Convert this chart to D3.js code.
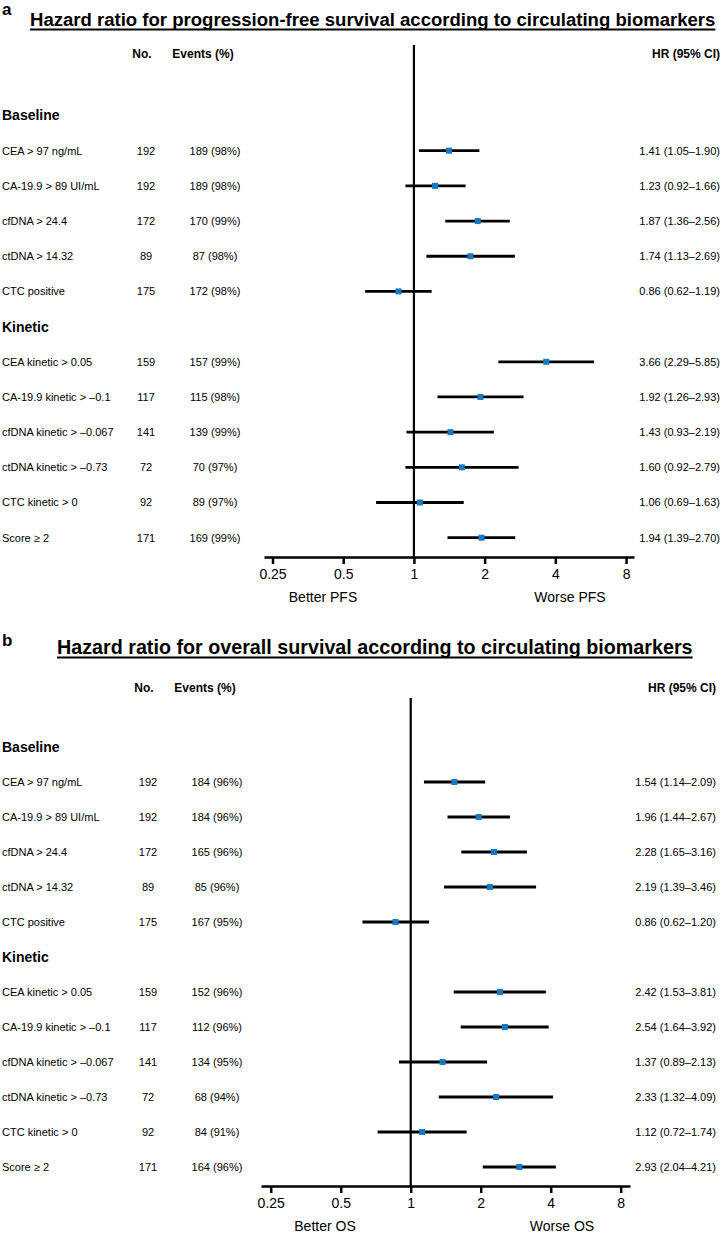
<!DOCTYPE html>
<html><head><meta charset="utf-8">
<script src="https://cdn.jsdelivr.net/npm/d3@7"></script>
<style>
html,body{margin:0;padding:0;background:#fff;}
text{font-family:"Liberation Sans",Arial,Helvetica,sans-serif;fill:#000;}
</style></head>
<body>
<script>
// ---------- data ----------
const rowLabels = ["CEA > 97 ng/mL","CA-19.9 > 89 UI/mL","cfDNA > 24.4","ctDNA > 14.32","CTC positive",
  "CEA kinetic > 0.05","CA-19.9 kinetic > \u20130.1","cfDNA kinetic > \u20130.067","ctDNA kinetic > \u20130.73","CTC kinetic > 0","Score \u2265 2"];
const groupLabels = ["Baseline","Kinetic"];
const groupSizes = [5,6];
const nPatients = [192,192,172,89,175,159,117,141,72,92,171];

const pfsEvents = [189,189,170,87,172,157,115,139,70,89,169];
const pfsPct    = [98,98,99,98,98,99,98,99,97,97,99];
const pfsHR     = [1.41,1.23,1.87,1.74,0.86,3.66,1.92,1.43,1.60,1.06,1.94];
const pfsLo     = [1.05,0.92,1.36,1.13,0.62,2.29,1.26,0.93,0.92,0.69,1.39];
const pfsHi     = [1.90,1.66,2.56,2.69,1.19,5.85,2.93,2.19,2.79,1.63,2.70];

const osEvents = [184,184,165,85,167,152,112,134,68,84,164];
const osPct    = [96,96,96,96,95,96,96,95,94,91,96];
const osHR     = [1.54,1.96,2.28,2.19,0.86,2.42,2.54,1.37,2.33,1.12,2.93];
const osLo     = [1.14,1.44,1.65,1.39,0.62,1.53,1.64,0.89,1.32,0.72,2.04];
const osHi     = [2.09,2.67,3.16,3.46,1.20,3.81,3.92,2.13,4.09,1.74,4.21];

const tickValues = [0.25,0.5,1,2,4,8];
const tickLabels = ["0.25","0.5","1","2","4","8"];

const W = 726, H = 1233;
const svg = d3.select("body").append("svg").attr("width",W).attr("height",H);

function panel(cfg){
  const g = svg.append("g");
  g.append("text").attr("x",2).attr("y",cfg.letterY).attr("font-size",17).attr("font-weight","bold").text(cfg.letter);
  const tt = g.append("text").attr("x",cfg.titleX).attr("y",cfg.titleY)
    .style("font-family","'Liberation Sans Narrow','Liberation Sans',Arial")
    .attr("font-size",21).attr("font-weight","bold").text(cfg.title);
  const natural = tt.node().getComputedTextLength();
  const fs = Math.min(22, 21*cfg.titleW/natural);
  tt.attr("font-size",fs);
  const realW = tt.node().getComputedTextLength();
  g.append("line").attr("x1",cfg.titleX).attr("x2",cfg.titleX+realW)
    .attr("y1",cfg.titleY+3.5).attr("y2",cfg.titleY+3.5).attr("stroke","#000").attr("stroke-width",2);

  const hy = cfg.headerY;
  g.append("text").attr("x",cfg.colN-4).attr("y",hy).attr("dy","0.35em").attr("text-anchor","middle").attr("font-size",12).attr("font-weight","bold").text("No.");
  g.append("text").attr("x",cfg.colE-12).attr("y",hy).attr("dy","0.35em").attr("text-anchor","middle").attr("font-size",12).attr("font-weight","bold").text("Events (%)");
  g.append("text").attr("x",cfg.colHR).attr("y",hy).attr("dy","0.35em").attr("text-anchor","end").attr("font-size",12).attr("font-weight","bold").text("HR (95% CI)");

  const slots = [];
  let idx = 0;
  groupLabels.forEach((gl,gi)=>{
    slots.push({type:"group",label:gl});
    for(let k=0;k<groupSizes[gi];k++){ slots.push({type:"row",i:idx}); idx++; }
  });
  const y = d3.scalePoint().domain(d3.range(slots.length)).range([cfg.firstY,cfg.lastY]);
  const x = d3.scaleLog().base(2).domain(cfg.domain).range(cfg.range);

  g.append("line").attr("x1",x(1)).attr("x2",x(1)).attr("y1",cfg.lineTop).attr("y2",cfg.axisY)
    .attr("stroke","#000").attr("stroke-width",2.2);

  slots.forEach((s,si)=>{
    const yy = y(si);
    if(s.type==="group"){
      g.append("text").attr("x",2).attr("y",yy).attr("dy","0.35em").attr("font-size",14).attr("font-weight","bold").text(s.label);
      return;
    }
    const i = s.i;
    g.append("text").attr("x",2).attr("y",yy).attr("dy","0.35em").attr("font-size",11).text(rowLabels[i]);
    g.append("text").attr("x",cfg.colN).attr("y",yy).attr("dy","0.35em").attr("text-anchor","middle").attr("font-size",11).text(nPatients[i]);
    g.append("text").attr("x",cfg.colE).attr("y",yy).attr("dy","0.35em").attr("text-anchor","middle").attr("font-size",11)
      .text(cfg.events[i]+" ("+cfg.pct[i]+"%)");
    g.append("text").attr("x",cfg.colHR).attr("y",yy).attr("dy","0.35em").attr("text-anchor","end").attr("font-size",11)
      .text(cfg.hr[i].toFixed(2)+" ("+cfg.lo[i].toFixed(2)+"\u2013"+cfg.hi[i].toFixed(2)+")");
    g.append("line").attr("x1",x(cfg.lo[i])).attr("x2",x(cfg.hi[i])).attr("y1",yy).attr("y2",yy)
      .attr("stroke","#000").attr("stroke-width",2.8);
    g.append("rect").attr("x",x(cfg.hr[i])-3).attr("y",yy-3).attr("width",6).attr("height",6).attr("fill","#1679c2");
  });

  const axis = d3.axisBottom(x).tickValues(tickValues).tickFormat((d,i)=>tickLabels[i]).tickSize(7).tickSizeOuter(0).tickPadding(5);
  const ag = g.append("g").attr("transform",`translate(0,${cfg.axisY})`).call(axis);
  ag.select(".domain").attr("stroke","#000").attr("stroke-width",2.5);
  ag.selectAll(".tick line").attr("stroke","#000").attr("stroke-width",2.5);
  ag.selectAll(".tick text").attr("font-size",14).attr("font-family","'Liberation Sans',Arial").attr("fill","#000");

  g.append("text").attr("x",cfg.betterX).attr("y",cfg.axisY+45).attr("text-anchor","middle").attr("font-size",14).text(cfg.better);
  g.append("text").attr("x",cfg.worseX).attr("y",cfg.axisY+45).attr("text-anchor","middle").attr("font-size",14).text(cfg.worse);
}

panel({
  letter:"a", letterY:15,
  title:"Hazard ratio for progression-free survival according to circulating biomarkers",
  titleX:30, titleY:26, titleW:686,
  headerY:54, lineTop:45,
  firstY:115.5, lastY:537.7, axisY:557,
  domain:[0.23,8.65], range:[264,634],
  colN:146, colE:215, colHR:720,
  events:pfsEvents, pct:pfsPct, hr:pfsHR, lo:pfsLo, hi:pfsHi,
  better:"Better PFS", worse:"Worse PFS", betterX:323, worseX:570
});

panel({
  letter:"b", letterY:646,
  title:"Hazard ratio for overall survival according to circulating biomarkers",
  titleX:57, titleY:654, titleW:636,
  headerY:688, lineTop:698,
  firstY:747, lastY:1167, axisY:1186,
  domain:[0.227,8.77], range:[261,630],
  colN:148, colE:217, colHR:716,
  events:osEvents, pct:osPct, hr:osHR, lo:osLo, hi:osHi,
  better:"Better OS", worse:"Worse OS", betterX:325, worseX:562
});
</script>
</body></html>
